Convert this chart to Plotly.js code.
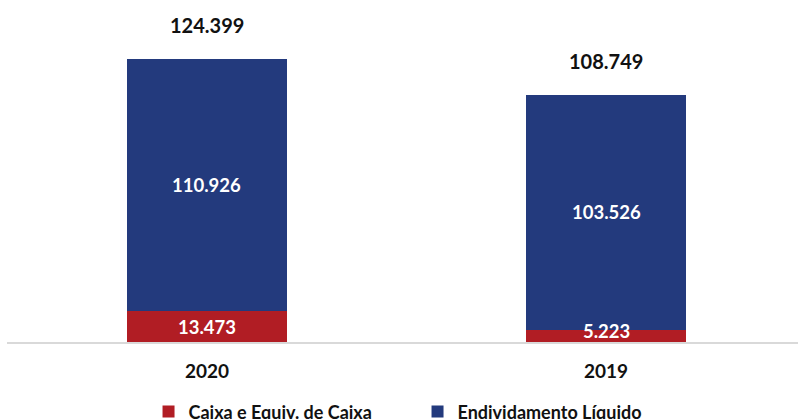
<!DOCTYPE html>
<html>
<head>
<meta charset="utf-8">
<script src="https://cdn.plot.ly/plotly-3.0.1.min.js"></script>
<style>html,body{margin:0;padding:0;background:#fff;}#chart{width:798px;height:419px;}</style>
</head>
<body>
<div id="chart"></div>
<script>
const categories = ['2020', '2019'];
const caixa = [13.473, 5.223];
const endividamento = [110.926, 103.526];
const totals = [124.399, 108.749];
const seriesNames = ['Caixa e Equiv. de Caixa', 'Endividamento Líquido'];

function fmt(v) { return v.toFixed(3); }

const FONT = 'Lato';
const RED = '#B11D24';
const BLUE = '#233A7D';

const traces = [
  {
    type: 'bar', name: seriesNames[0], x: categories, y: caixa,
    marker: { color: RED }, width: 0.401, hoverinfo: 'none'
  },
  {
    type: 'bar', name: seriesNames[1], x: categories, y: endividamento,
    marker: { color: BLUE }, width: 0.401, hoverinfo: 'none'
  }
];

const annotations = [];
for (let i = 0; i < categories.length; i++) {
  annotations.push({
    x: i, y: totals[i], xref: 'x', yref: 'y', text: '<b>' + fmt(totals[i]) + '</b>',
    showarrow: false, yanchor: 'middle', yshift: 34,
    font: { family: FONT, size: 20, color: '#111111' }
  });
  annotations.push({
    x: i, y: caixa[i] + endividamento[i] / 2, xref: 'x', yref: 'y', text: '<b>' + fmt(endividamento[i]) + '</b>',
    showarrow: false, yanchor: 'middle',
    font: { family: FONT, size: 18.5, color: '#ffffff' }
  });
  annotations.push({
    x: i, y: caixa[i] / 2, xref: 'x', yref: 'y', text: '<b>' + fmt(caixa[i]) + '</b>',
    showarrow: false, yanchor: 'middle', yshift: caixa[i] < 8 ? 5 : 0,
    font: { family: FONT, size: 18.5, color: '#ffffff' }
  });
}

const layout = {
  width: 798, height: 419,
  margin: { l: 7, r: 0, t: 0, b: 77, autoexpand: false },
  paper_bgcolor: '#ffffff', plot_bgcolor: '#ffffff',
  barmode: 'stack',
  showlegend: true,
  legend: {
    orientation: 'h', x: 0.519, xanchor: 'center', y: -0.150, yanchor: 'top',
    font: { family: FONT, size: 18, color: '#111111', weight: 'bold' },
    traceorder: 'normal', entrywidth: 224
  },
  xaxis: {
    type: 'category', range: [-0.501, 1.481],
    showline: true, linecolor: '#D9D9D9', linewidth: 2,
    showgrid: false, zeroline: false, ticks: '',
    tickfont: { family: FONT, size: 19, color: '#111111', weight: 'bold' },
    ticklabelstandoff: 11
  },
  yaxis: {
    range: [0, 150.3], visible: false, showgrid: false, zeroline: false
  },
  annotations: annotations
};

Plotly.newPlot('chart', traces, layout, { displayModeBar: false, staticPlot: true });
</script>
</body>
</html>
